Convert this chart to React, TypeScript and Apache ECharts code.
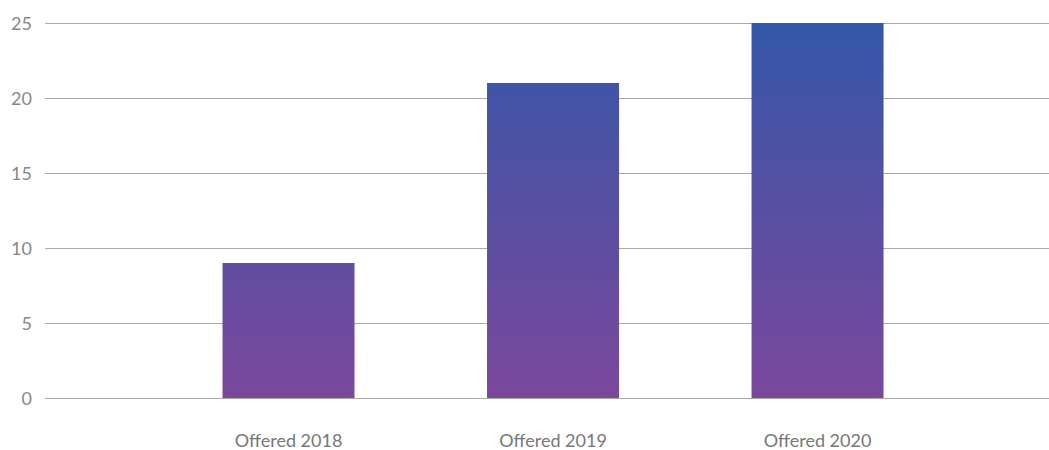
import React, { useEffect, useRef } from "react";
import * as echarts from "echarts";

const categories = ["Offered 2018", "Offered 2019", "Offered 2020"];
const values = [9, 21, 25];
const yTicks = [0, 5, 10, 15, 20, 25];

export default function App() {
  const ref = useRef<HTMLDivElement>(null);
  useEffect(() => {
    if (!ref.current) return;
    const chart = echarts.init(ref.current, null, { renderer: "svg" });
    const top = 23;
    const bottom = 52;
    const gradient = new echarts.graphic.LinearGradient(
      0, top, 0, 450 - bottom,
      [
        { offset: 0, color: "#3557a8" },
        { offset: 1, color: "#7a489c" },
      ],
      true
    );
    chart.setOption({
      animation: false,
      textStyle: { fontFamily: "Lato" },
      grid: { left: 45, right: 0, top, bottom, containLabel: false },
      xAxis: {
        type: "value",
        min: -0.9206,
        max: 2.875,
        splitLine: { show: false },
        axisLine: { show: false },
        axisTick: { show: false },
        axisLabel: {
          customValues: categories.map((_, i) => i),
          formatter: (v: number) => categories[Math.round(v)] ?? "",
          color: "#777777",
          fontSize: 18,
          margin: 33,
          fontFamily: "Lato",
        },
      },
      yAxis: {
        type: "value",
        min: yTicks[0],
        max: yTicks[yTicks.length - 1],
        interval: 5,
        axisLine: { show: false },
        axisTick: { show: false },
        axisLabel: { color: "#888888", fontSize: 18, margin: 13, fontFamily: "Lato" },
        splitLine: { lineStyle: { color: "#aaaaaa", width: 1 } },
      },
      series: [
        {
          type: "bar",
          data: values.map((v, i) => [i, v]),
          barWidth: 132,
          itemStyle: { color: gradient },
        },
      ],
    });
    return () => chart.dispose();
  }, []);
  return <div ref={ref} style={{ width: 1049, height: 450, position: "absolute", left: 0, top: 0 }} />;
}
